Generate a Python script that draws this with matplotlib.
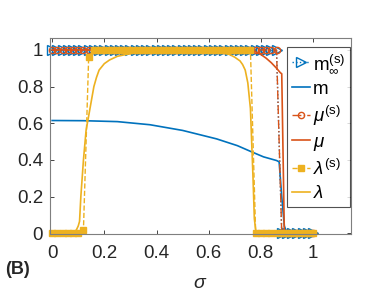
import numpy as np
import matplotlib
matplotlib.use("Agg")
import matplotlib.pyplot as plt

plt.rcParams['font.family'] = ['Liberation Sans', 'DejaVu Sans']
plt.rcParams['mathtext.fontset'] = 'custom'
plt.rcParams['mathtext.rm'] = 'Liberation Sans'
plt.rcParams['mathtext.it'] = 'Liberation Sans:italic'
plt.rcParams['mathtext.bf'] = 'Liberation Sans:bold'

# stable-branch results on a 0.02 grid
sigma_s = np.round(np.arange(0, 1.0001, 0.02), 2)
m_inf_s = [1.0] * 44 + [0.0] * 7
mu_s = [1.0] * 44 + [0.0] * 7
lam_s = [0.0] * 6 + [0.02, 0.96] + [1.0] * 31 + [0.0] * 12

# simulated curves
sigma_m = [0.0, 0.12, 0.25, 0.375, 0.5, 0.63, 0.71, 0.76, 0.81, 0.86, 0.87, 0.88, 0.89, 0.90, 1.0]
m_vals = [0.615, 0.614, 0.609, 0.592, 0.561, 0.515, 0.478, 0.447, 0.417, 0.397, 0.39, 0.2, 0.04, 0.0, 0.0]

sigma_mu = [0.0, 0.70, 0.76, 0.78, 0.80, 0.82, 0.84, 0.86, 0.875, 0.88, 0.89, 1.0]
mu_vals = [1.0, 1.0, 0.998, 0.99, 0.975, 0.955, 0.93, 0.9, 0.875, 0.87, 0.0, 0.0]

sigma_lam = [0.0, 0.08, 0.09, 0.10, 0.105, 0.11, 0.12, 0.13, 0.14, 0.15, 0.16, 0.17, 0.18,
             0.20, 0.22, 0.25, 0.30, 0.35, 0.40, 0.50, 0.60, 0.65, 0.68, 0.70, 0.72,
             0.73, 0.74, 0.75, 0.76, 0.77, 0.775, 0.78, 0.79, 1.0]
lam_vals = [0.0, 0.0, 0.01, 0.04, 0.065, 0.2, 0.4, 0.56, 0.64, 0.72, 0.8, 0.85, 0.89,
            0.925, 0.945, 0.965, 0.98, 0.99, 0.995, 0.998, 0.995, 0.985, 0.975, 0.96, 0.94,
            0.92, 0.89, 0.82, 0.68, 0.3, 0.08, 0.02, 0.0, 0.0]

blue = '#0072BD'
orange = '#D95319'
yellow = '#EDB120'

fig = plt.figure(figsize=(3.88, 2.92), dpi=100)
ax = fig.add_axes([0.129, 0.199, 0.776, 0.671])

ax.plot(sigma_s, m_inf_s, ':', color=blue, lw=1.0, marker='>', ms=7,
        mfc='none', mec=blue, mew=1.0, clip_on=False, label=r'm$_{\infty}^{\rm (s)}$')
ax.plot(sigma_m, m_vals, '-', color=blue, lw=1.2, label='m')
ax.plot(sigma_s, mu_s, '-.', color=orange, lw=1.0, marker='o', ms=4.5,
        mfc='none', mec=orange, mew=1.0, clip_on=False, label=r'$\mu^{\rm (s)}$')
ax.plot(sigma_mu, mu_vals, '-', color=orange, lw=1.2, label=r'$\mu$')
ax.plot(sigma_s, lam_s, '--', color=yellow, lw=1.0, marker='s', ms=4.5,
        mfc=yellow, mec=yellow, clip_on=False, label=r'$\lambda^{\rm (s)}$')
ax.plot(sigma_lam, lam_vals, '-', color=yellow, lw=1.2, label=r'$\lambda$')

ax.set_xlim(-0.008, 1.146)
ax.set_ylim(-0.003, 1.065)
ax.set_xticks([0, 0.2, 0.4, 0.6, 0.8, 1])
ax.set_xticklabels(['0', '0.2', '0.4', '0.6', '0.8', '1'])
ax.set_yticks([0, 0.2, 0.4, 0.6, 0.8, 1])
ax.set_yticklabels(['0', '0.2', '0.4', '0.6', '0.8', '1'])
ax.tick_params(direction='in', length=3, width=0.6, top=True, right=True,
               labelsize=13.5, colors='#262626', pad=5)
ax.tick_params(axis='x', pad=8)
for s in ax.spines.values():
    s.set_color('#7f7f7f')
    s.set_linewidth(0.8)

ax.set_xlabel(r'$\sigma$', fontsize=14, color='#262626', labelpad=9)

leg = ax.legend(loc='upper right', bbox_to_anchor=(0.997, 0.954), borderaxespad=0,
                fontsize=13.5, frameon=True, fancybox=False, handlelength=1.0,
                handletextpad=0.15, labelspacing=0.32, borderpad=0.25)
leg.get_frame().set_edgecolor('#262626')
leg.get_frame().set_linewidth(0.8)

fig.text(0.012, 0.06, '(B)', fontsize=13, fontweight='bold', color='#262626')

fig.savefig('out.png', dpi=100)
